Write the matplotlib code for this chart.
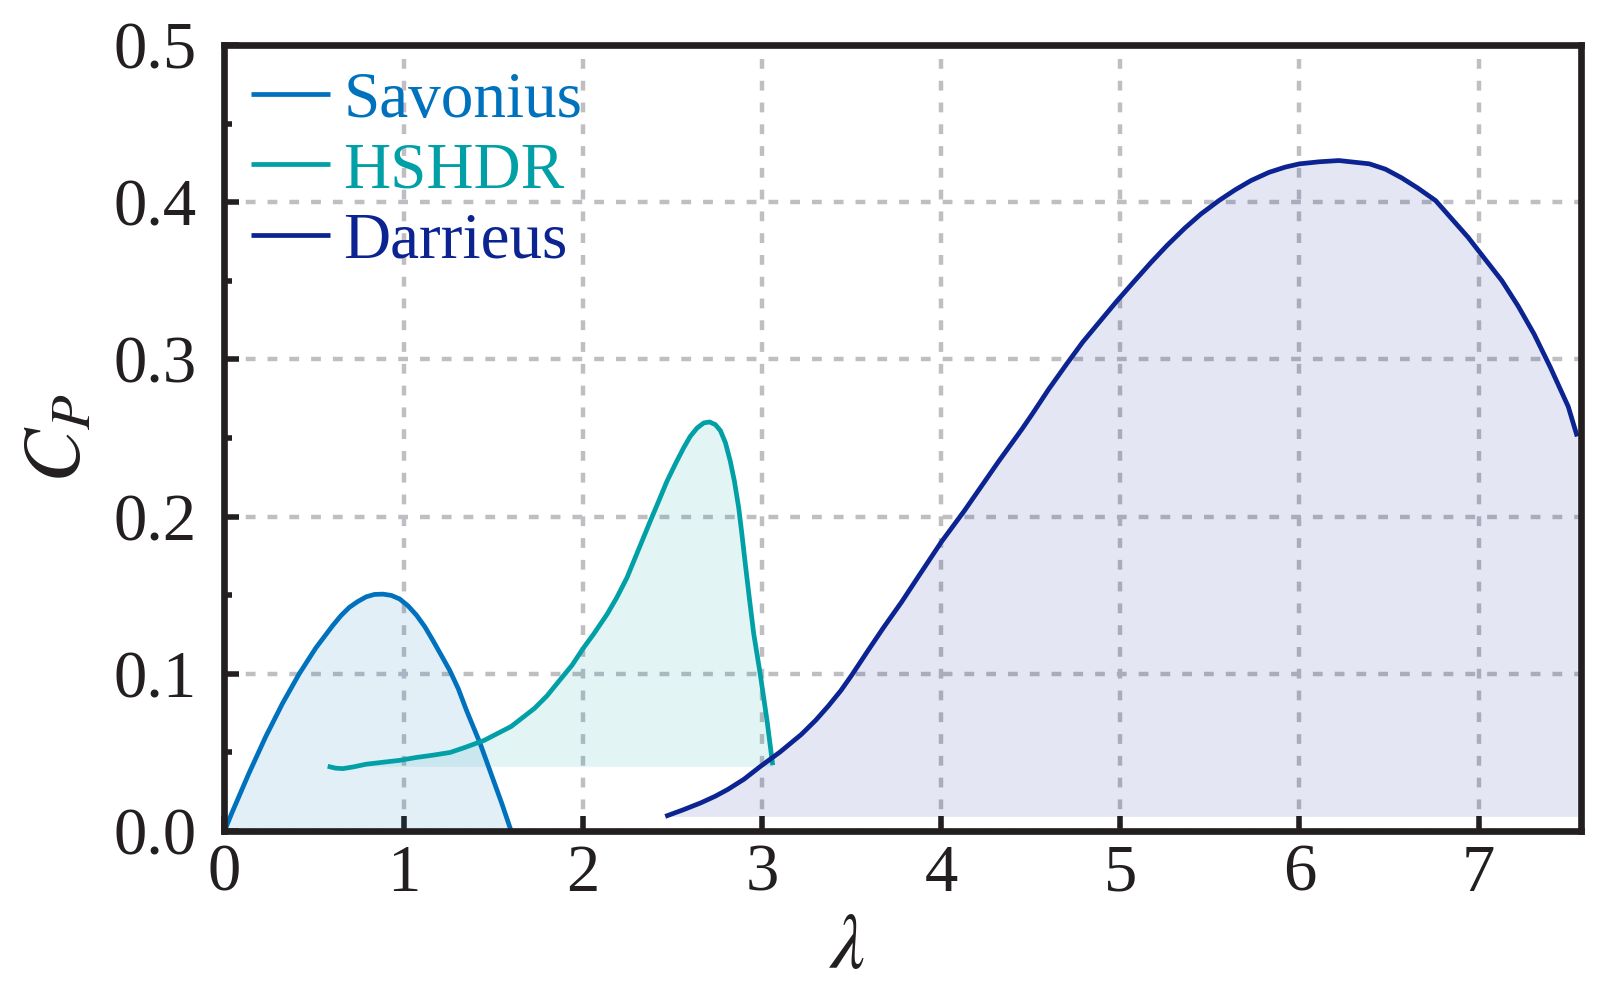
import matplotlib
matplotlib.use("Agg")
import matplotlib.pyplot as plt
from matplotlib.ticker import MultipleLocator, FormatStrFormatter

# ---- data ----
sav_tsr = [0.000, 0.043, 0.136, 0.230, 0.323, 0.417, 0.510, 0.604, 0.650, 0.697,
           0.744, 0.791, 0.837, 0.884, 0.931, 0.978, 1.024, 1.071, 1.118, 1.164,
           1.211, 1.258, 1.305, 1.351, 1.389, 1.426, 1.464, 1.501, 1.548, 1.600]
sav_cp = [0.000, 0.012, 0.0366, 0.060, 0.081, 0.100, 0.1165, 0.1307, 0.137, 0.1423,
          0.146, 0.149, 0.1505, 0.1507, 0.1499, 0.1476, 0.1433, 0.1374, 0.130, 0.1211,
          0.1116, 0.102, 0.0905, 0.0767, 0.0662, 0.056, 0.044, 0.0323, 0.0175, 0.000]

hs_tsr = [0.576, 0.620, 0.660, 0.720, 0.790, 0.880, 0.980, 1.070, 1.160, 1.260,
          1.350, 1.450, 1.540, 1.600, 1.730, 1.800, 1.875, 1.940, 2.000, 2.061,
          2.136, 2.190, 2.247, 2.312, 2.377, 2.424, 2.470, 2.517, 2.563, 2.600,
          2.638, 2.675, 2.708, 2.740, 2.768, 2.796, 2.823, 2.846, 2.870, 2.888,
          2.907, 2.929, 2.954, 2.990, 3.028, 3.060]
hs_cp = [0.0412, 0.0400, 0.0397, 0.0408, 0.0425, 0.0437, 0.0450, 0.0468, 0.0482, 0.0500,
         0.0535, 0.0577, 0.0630, 0.0665, 0.0780, 0.0860, 0.0965, 0.1055, 0.1159, 0.1254,
         0.1380, 0.1486, 0.1613, 0.1793, 0.1973, 0.2100, 0.2226, 0.2336, 0.2438, 0.2511,
         0.2564, 0.2596, 0.2602, 0.2585, 0.2547, 0.2470, 0.2353, 0.2226, 0.2057, 0.1888,
         0.1698, 0.1486, 0.1254, 0.1000, 0.0704, 0.0419]

dar_tsr = [2.46, 2.56, 2.66, 2.74, 2.81, 2.90, 2.99, 3.10, 3.22, 3.30, 3.37, 3.44,
           3.50, 3.59, 3.68, 3.78, 3.87, 4.00, 4.13, 4.25, 4.32, 4.45, 4.51, 4.60,
           4.70, 4.79, 4.89, 4.98, 5.08, 5.17, 5.26, 5.36, 5.45, 5.55, 5.64, 5.73,
           5.83, 5.92, 6.00, 6.11, 6.22, 6.39, 6.48, 6.57, 6.66, 6.76, 6.94, 7.00,
           7.13, 7.22, 7.31, 7.40, 7.50, 7.55]
dar_cp = [0.0093, 0.0135, 0.0180, 0.0222, 0.0265, 0.0330, 0.0410, 0.0502, 0.0615,
          0.0705, 0.0795, 0.0893, 0.0990, 0.1145, 0.1297, 0.1458, 0.1614, 0.1837,
          0.2038, 0.2235, 0.2350, 0.2555, 0.2655, 0.2810, 0.2970, 0.3110, 0.3247,
          0.3370, 0.3500, 0.3615, 0.3724, 0.3835, 0.3925, 0.4010, 0.4078, 0.4138,
          0.4190, 0.4223, 0.4244, 0.4257, 0.4265, 0.4244, 0.4210, 0.4155, 0.4090,
          0.4010, 0.3778, 0.3690, 0.3500, 0.3340, 0.3160, 0.2950, 0.2700, 0.2510]

labels = ["Savonius", "HSHDR", "Darrieus"]
colors = ["#0072BD", "#00A0A6", "#0C2392"]
x_ticks = [0, 1, 2, 3, 4, 5, 6, 7]
y_ticks = [0.0, 0.1, 0.2, 0.3, 0.4, 0.5]

# ---- styling ----
ink = "#231F20"
plt.rcParams["font.family"] = ["Liberation Serif", "DejaVu Serif"]
plt.rcParams["mathtext.fontset"] = "stix"

fig = plt.figure(figsize=(8, 4.965), dpi=200)
ax = fig.add_axes([0.1403, 0.1631, 0.8478, 0.7916])

series = [(sav_tsr, sav_cp), (hs_tsr, hs_cp), (dar_tsr, dar_cp)]
for (x, y), lab, col in zip(series, labels, colors):
    ax.fill_between(x, y, y[0], color=col, alpha=0.11, linewidth=0, zorder=2)
    ax.plot(x, y, color=col, lw=1.7, label=lab, zorder=3,
            solid_capstyle="butt", solid_joinstyle="round")

ax.set_xlim(0, 7.571)
ax.set_ylim(0, 0.5)
ax.set_xticks(x_ticks)
ax.set_yticks(y_ticks)
ax.yaxis.set_minor_locator(MultipleLocator(0.05))
ax.yaxis.set_major_formatter(FormatStrFormatter("%.1f"))

ax.set_axisbelow(True)
ax.grid(True, which="major", color="#BEBEC3", linewidth=1.6,
        linestyle=(0, (2.2, 2.7)), zorder=0)

for s in ax.spines.values():
    s.set_linewidth(2.4)
    s.set_color(ink)
    s.set_zorder(5)

ax.tick_params(axis="both", which="major", direction="in", length=5.5, width=2.0,
               color=ink, labelcolor=ink, labelsize=24, top=False, right=False)
ax.tick_params(axis="y", which="minor", direction="in", length=3.0, width=2.0,
               color=ink, right=False)
ax.tick_params(axis="x", which="major", pad=4.5)
ax.tick_params(axis="y", which="major", pad=10)

ax.set_xlabel(r"$\lambda$", fontsize=28, color=ink)
ax.set_ylabel(r"$C_P$", fontsize=29, color=ink)
ax.xaxis.set_label_coords(0.459, -0.105)
ax.yaxis.set_label_coords(-0.094, 0.5)

leg = ax.legend(loc="upper left", frameon=False, fontsize=23.5,
                handlelength=1.21, handletextpad=0.21, labelspacing=0.165,
                borderaxespad=0.4, borderpad=0.0, labelcolor="linecolor")

fig.savefig("out.png", dpi=200)
